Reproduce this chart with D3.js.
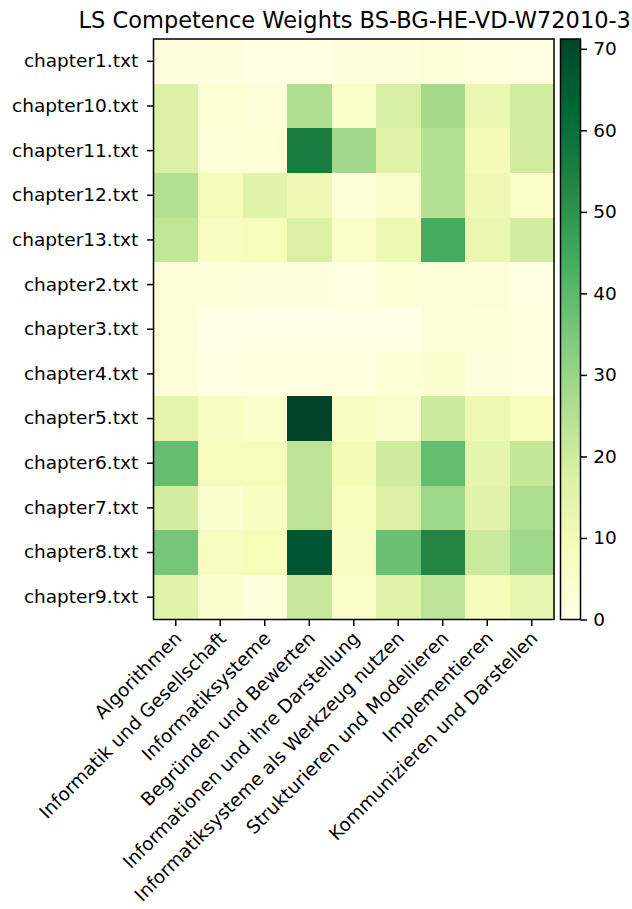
<!DOCTYPE html>
<html>
<head>
<meta charset="utf-8">
<script src="https://cdn.jsdelivr.net/npm/d3@7"></script>
<style>
  html, body { margin: 0; padding: 0; background: #ffffff; }
  svg { display: block; }
  text { font-family: "DejaVu Sans", sans-serif; fill: #000; }
</style>
</head>
<body>
<svg id="chart" width="632" height="909"></svg>
<script>
// Documents (rows) and competences (columns)
const chapters = [
  "chapter1.txt", "chapter10.txt", "chapter11.txt", "chapter12.txt", "chapter13.txt",
  "chapter2.txt", "chapter3.txt", "chapter4.txt", "chapter5.txt", "chapter6.txt",
  "chapter7.txt", "chapter8.txt", "chapter9.txt"
];
const competences = [
  "Algorithmen",
  "Informatik und Gesellschaft",
  "Informatiksysteme",
  "Begründen und Bewerten",
  "Informationen und ihre Darstellung",
  "Informatiksysteme als Werkzeug nutzen",
  "Strukturieren und Modellieren",
  "Implementieren",
  "Kommunizieren und Darstellen"
];
// Weight of each competence per chapter, one array per chapter (row order above)
const weights = [
  [1.5, 2.0, 1.0, 1.0, 1.8, 2.0, 2.5, 1.2, 0.8],
  [17.0, 3.5, 2.5, 26.0, 6.0, 18.0, 28.0, 12.5, 19.5],
  [17.5, 2.5, 3.5, 56.0, 28.5, 15.5, 25.0, 10.0, 19.5],
  [25.5, 9.5, 15.0, 11.5, 2.5, 5.5, 25.0, 11.5, 6.0],
  [22.5, 7.5, 8.5, 17.5, 6.0, 12.0, 44.0, 12.5, 19.0],
  [2.5, 2.3, 2.0, 1.5, 0.8, 3.5, 3.0, 2.5, 0.8],
  [2.5, 0.5, 0.3, 0.3, 0.3, 0.0, 2.7, 2.3, 1.2],
  [2.5, 1.0, 1.3, 1.2, 1.2, 3.5, 3.8, 1.8, 1.2],
  [14.5, 7.0, 5.5, 71.2, 7.0, 4.5, 21.0, 12.0, 8.5],
  [38.5, 8.5, 8.5, 23.5, 9.7, 20.0, 38.5, 14.0, 22.0],
  [19.0, 3.8, 7.0, 23.5, 8.5, 17.0, 29.0, 15.5, 26.7],
  [36.0, 7.5, 9.0, 67.0, 7.5, 37.5, 53.5, 21.0, 29.0],
  [15.5, 4.0, 2.0, 21.5, 6.0, 15.0, 23.5, 9.5, 13.5]
];
const colorbarTicks = [0, 10, 20, 30, 40, 50, 60, 70];
const title = "LS Competence Weights BS-BG-HE-VD-W72010-3";

// YlGn colour stops, interpolated linearly
const ylgn = ["#ffffe5", "#f7fcb9", "#d9f0a3", "#addd8e", "#78c679",
              "#41ab5d", "#238443", "#006837", "#004529"];

const svg = d3.select("#chart");
const plot = { left: 153.5, right: 554, top: 39, bottom: 619.5 };
const cbar = { left: 560.5, right: 580.5 };
const tickLen = 6.4, tickPad = 6.4, lineW = 1.5, fontSize = 18.5;

const vmin = 0;
const vmax = d3.max(weights.flat());
const stopDomain = ylgn.map((_, i) => vmin + (vmax - vmin) * i / (ylgn.length - 1));
const color = d3.scaleLinear().domain(stopDomain).range(ylgn).interpolate(d3.interpolateRgb).clamp(true);

const x = d3.scaleBand().domain(competences).range([plot.left, plot.right]).padding(0);
const y = d3.scaleBand().domain(chapters).range([plot.top, plot.bottom]).padding(0);

// Cells
const cells = [];
chapters.forEach((ch, i) => competences.forEach((c, j) => cells.push({ ch, c, v: weights[i][j] })));
svg.append("g").selectAll("rect").data(cells).join("rect")
  .attr("x", d => x(d.c))
  .attr("y", d => y(d.ch))
  .attr("width", x.bandwidth() + 0.5)
  .attr("height", y.bandwidth() + 0.5)
  .attr("fill", d => color(d.v))
  .attr("shape-rendering", "crispEdges");

// Frame
svg.append("rect")
  .attr("x", plot.left).attr("y", plot.top)
  .attr("width", plot.right - plot.left).attr("height", plot.bottom - plot.top)
  .attr("fill", "none").attr("stroke", "#000").attr("stroke-width", lineW);

// Y axis
const yAxis = svg.append("g").attr("transform", `translate(${plot.left},0)`)
  .call(d3.axisLeft(y).tickSize(tickLen).tickPadding(tickPad + 2.5));
yAxis.select(".domain").remove();
yAxis.selectAll(".tick line").attr("stroke", "#000").attr("stroke-width", lineW);
yAxis.selectAll(".tick text")
  .attr("font-size", fontSize).attr("font-family", "DejaVu Sans").attr("fill", "#000");

// X axis with rotated labels
const xAxis = svg.append("g").attr("transform", `translate(0,${plot.bottom})`)
  .call(d3.axisBottom(x).tickSize(tickLen).tickPadding(tickPad));
xAxis.select(".domain").remove();
xAxis.selectAll(".tick line").attr("stroke", "#000").attr("stroke-width", lineW);
xAxis.selectAll(".tick text")
  .attr("font-size", fontSize).attr("font-family", "DejaVu Sans").attr("fill", "#000")
  .attr("text-anchor", "end")
  .attr("dy", null)
  .attr("x", 0).attr("y", 0)
  .attr("transform", "translate(7,20) rotate(-45)");

// Title
svg.append("text")
  .attr("x", (plot.left + plot.right) / 2 + 1)
  .attr("y", 28)
  .attr("text-anchor", "middle")
  .attr("font-size", 22.5)
  .text(title);

// Colour bar
const cb = d3.scaleLinear().domain([vmin, vmax]).range([plot.bottom, plot.top]);
const defs = svg.append("defs");
const grad = defs.append("linearGradient").attr("id", "cbgrad")
  .attr("x1", 0).attr("y1", 1).attr("x2", 0).attr("y2", 0);
d3.range(0, 1.0001, 1 / 64).forEach(t => {
  grad.append("stop").attr("offset", t).attr("stop-color", color(vmin + t * (vmax - vmin)));
});
svg.append("rect")
  .attr("x", cbar.left).attr("y", plot.top)
  .attr("width", cbar.right - cbar.left).attr("height", plot.bottom - plot.top)
  .attr("fill", "url(#cbgrad)")
  .attr("stroke", "#000").attr("stroke-width", lineW);

const cAxis = svg.append("g").attr("transform", `translate(${cbar.right},0)`)
  .call(d3.axisRight(cb).tickValues(colorbarTicks).tickSize(tickLen).tickPadding(tickPad));
cAxis.select(".domain").remove();
cAxis.selectAll(".tick line").attr("stroke", "#000").attr("stroke-width", lineW);
cAxis.selectAll(".tick text")
  .attr("font-size", fontSize).attr("font-family", "DejaVu Sans").attr("fill", "#000");
</script>
</body>
</html>
